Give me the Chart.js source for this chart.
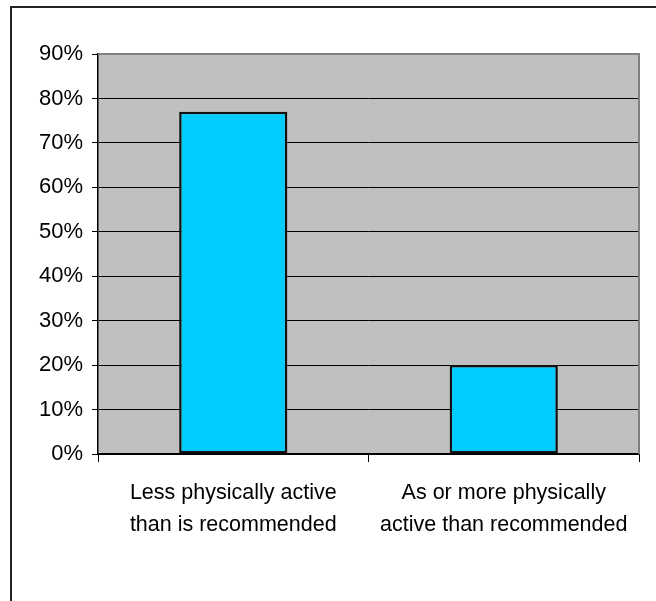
<!DOCTYPE html>
<html>
<head>
<meta charset="utf-8">
<script src="https://cdn.jsdelivr.net/npm/chart.js@4/dist/chart.umd.min.js"></script>
<style>
  html, body { margin: 0; padding: 0; background: #fff; overflow: hidden; }
  #wrap { position: relative; width: 656px; height: 601px; overflow: hidden; }
  #frame { position: absolute; left: 10px; top: 6px; width: 800px; height: 800px; border: 2px solid #222; box-sizing: border-box; }
  canvas { position: absolute; left: 0; top: 0; }
</style>
</head>
<body>
<div id="wrap">
  <div id="frame"></div>
  <canvas id="chart" width="656" height="601"></canvas>
</div>
<script>
// data
const categories = [
  ["Less physically active", "than is recommended"],
  ["As or more physically", "active than recommended"]
];
const shareValues = [77, 20];
const yMax = 90;
const yStep = 10;

const FONT = "'Liberation Sans', Arial, sans-serif";

// grey plot background + grey top/right frame, like the old office charts
const plotBg = {
  id: 'plotBg',
  beforeDraw(chart) {
    const a = chart.chartArea, ctx = chart.ctx;
    ctx.save();
    ctx.fillStyle = '#c0c0c0';
    ctx.fillRect(a.left, a.top, a.right - a.left, a.bottom - a.top);
    ctx.restore();
  },
  beforeDatasetsDraw(chart) {
    const a = chart.chartArea, ctx = chart.ctx;
    ctx.save();
    ctx.strokeStyle = '#808080';
    ctx.lineWidth = 2;
    ctx.beginPath();
    ctx.moveTo(a.left, a.top);
    ctx.lineTo(a.right, a.top);
    ctx.lineTo(a.right, a.bottom);
    ctx.stroke();
    ctx.restore();
  }
};

new Chart(document.getElementById('chart'), {
  type: 'bar',
  data: {
    labels: categories,
    datasets: [{
      data: shareValues,
      backgroundColor: '#00ccff',
      borderColor: '#111',
      borderWidth: 2.5,
      borderSkipped: false,
      categoryPercentage: 1,
      barPercentage: 0.4
    }]
  },
  options: {
    responsive: false,
    animation: false,
    layout: { padding: { top: 54, right: 17, left: 0, bottom: 0 } },
    plugins: { legend: { display: false }, tooltip: { enabled: false } },
    scales: {
      x: {
        afterFit(s) { s.height = 147; },
        grid: { drawOnChartArea: false, tickLength: 8, color: '#000', offset: true },
        border: { color: '#000', width: 1.5 },
        ticks: { color: '#000', font: { family: FONT, size: 21.5, lineHeight: 1.48 }, padding: 15, maxRotation: 0 }
      },
      y: {
        min: 0, max: yMax,
        afterFit(s) { s.width = 98; },
        grid: { color: '#000', tickLength: 6, lineWidth: 1 },
        border: { color: '#000', width: 1.5 },
        ticks: {
          stepSize: yStep, color: '#000', padding: 9,
          font: { family: FONT, size: 22 },
          callback: v => v + '%'
        }
      }
    }
  },
  plugins: [plotBg]
});
</script>
</body>
</html>
